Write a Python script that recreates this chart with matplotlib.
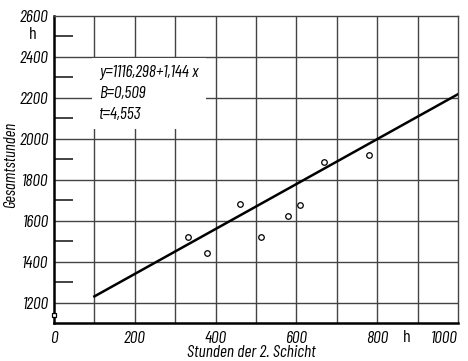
import matplotlib
matplotlib.use("Agg")
import matplotlib.pyplot as plt
import numpy as np

# data
stunden_2_schicht = [332, 379, 460, 512, 578, 610, 668, 780]
gesamtstunden = [1521, 1444, 1679, 1520, 1625, 1677, 1888, 1920]
axis_point = (0, 1140)
fit_x = [100, 1000]
fit_y = [1230, 2218]
x_ticks = [0, 200, 400, 600, 800, 1000]
y_ticks = [1200, 1400, 1600, 1800, 2000, 2200, 2400, 2600]
stats_lines = ["y=1116,298+1,144 x", "B=0,509", "t=4,553"]

plt.rcParams['font.family'] = ['Barlow Condensed', 'DejaVu Sans']
plt.rcParams['font.stretch'] = 'condensed'
plt.rcParams['font.style'] = 'italic'

fig = plt.figure(figsize=(4.68, 3.61), dpi=100)
ax = fig.add_axes([54 / 468, 38 / 361, 404 / 468, 307 / 361])
ax.set_xlim(0, 1000)
ax.set_ylim(1100, 2600)

# grid: vertical every 100 h, horizontal every 200 h
for gx in np.arange(100, 1000, 100):
    ax.axvline(gx, color='#444444', lw=1.0, zorder=1)
for gy in np.arange(1200, 2600, 200):
    ax.axhline(gy, color='#444444', lw=1.0, zorder=1)

ax.set_xticks(x_ticks)
ax.set_xticklabels([str(v) for v in x_ticks])
ax.set_yticks(y_ticks)
ax.set_yticklabels([str(v) for v in y_ticks])
ax.set_yticks(np.arange(1300, 2600, 200), minor=True)
ax.tick_params(axis='both', which='major', length=0, labelsize=12.5, pad=4)
ax.tick_params(axis='x', which='major', pad=6)
ax.tick_params(axis='y', which='minor', direction='in', length=14, width=1.2, color='#222222')
ax.tick_params(axis='x', which='minor', length=0)
# first and last x labels sit a little off their ticks, as in the scan
ax.get_xticklabels()[0].set_x(-22)
ax.get_xticklabels()[-1].set_horizontalalignment('right')
ax.get_xticklabels()[-1].set_x(1010)

for side in ['left', 'bottom']:
    ax.spines[side].set_linewidth(1.8)
for side in ['top', 'right']:
    ax.spines[side].set_linewidth(1.0)
    ax.spines[side].set_color('#444444')

ax.plot(fit_x, fit_y, color='black', lw=1.8, zorder=3)
ax.plot(stunden_2_schicht, gesamtstunden, 'o', ms=4, mfc='white', mec='black',
        mew=0.9, zorder=4)
ax.plot([axis_point[0]], [axis_point[1]], 's', ms=3.5, mfc='white', mec='black',
        mew=0.9, zorder=5, clip_on=False)

ax.text(112, 2223, "\n".join(stats_lines), fontsize=12.5, va='center', ha='left',
        linespacing=1.5, zorder=6,
        bbox=dict(facecolor='white', edgecolor='none', pad=5))

# unit labels
ax.text(-0.052, 0.941, "h", transform=ax.transAxes, fontsize=13, style='normal',
        ha='center', va='center')
ax.text(0.874, -0.046, "h", transform=ax.transAxes, fontsize=13, style='normal',
        ha='center', va='center')

ax.set_ylabel("Gesamtstunden", fontsize=12)
ax.yaxis.set_label_coords(-0.088, 0.515)
ax.set_xlabel("Stunden der 2. Schicht", fontsize=12.5)
ax.xaxis.set_label_coords(0.489, -0.072)

fig.savefig("out.png", dpi=100)
